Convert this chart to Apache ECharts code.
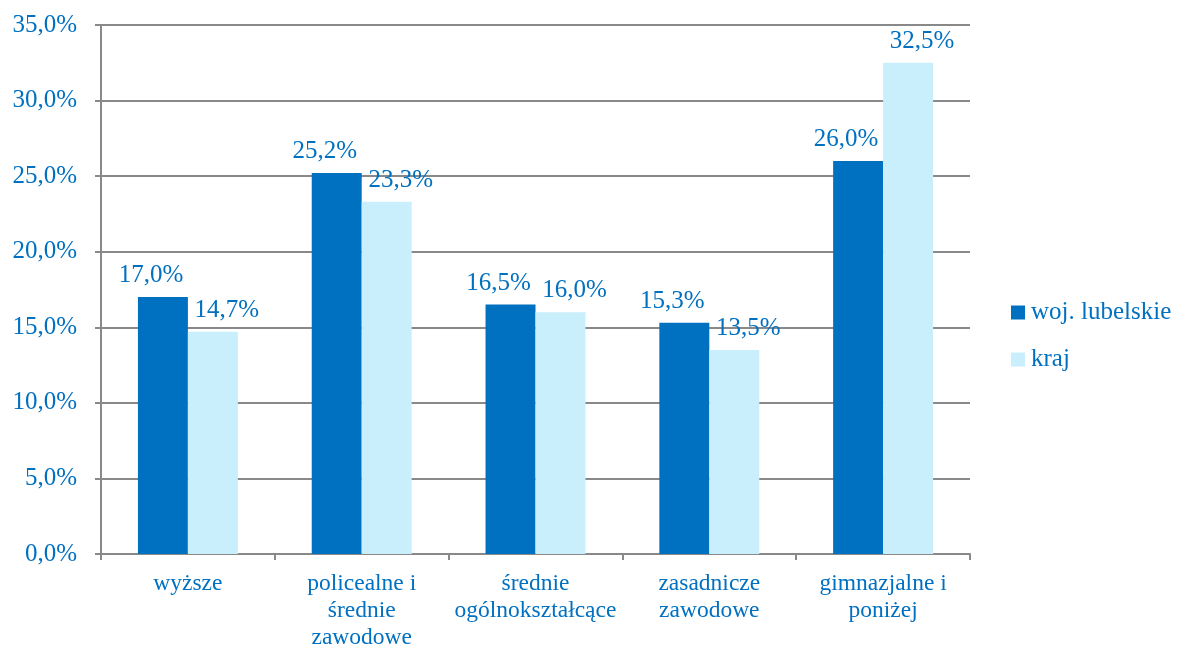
<!DOCTYPE html>
<html><head><meta charset="utf-8">
<script src="https://cdn.jsdelivr.net/npm/echarts@6/dist/echarts.min.js"></script>
<style>html,body{margin:0;padding:0;background:#fff;overflow:hidden}#c{width:1183px;height:645px}</style>
</head><body><div id="c"></div>
<script>
var categories = ['wyższe', 'policealne i\nśrednie\nzawodowe', 'średnie\nogólnokształcące', 'zasadnicze\nzawodowe', 'gimnazjalne i\nponiżej'];
var seriesNames = ['woj. lubelskie', 'kraj'];
var lubelskie = [17.0, 25.2, 16.5, 15.3, 26.0];
var kraj = [14.7, 23.3, 16.0, 13.5, 32.5];
var yTicks = {min: 0, max: 35, interval: 5};

function fmt(v) { return v.toFixed(1).replace('.', ',') + '%'; }
var FONT = '"Liberation Serif", "Times New Roman", serif';
var BLUE = '#0070C0';
var chart = echarts.init(document.getElementById('c'));
chart.setOption({
  animation: false,
  textStyle: {fontFamily: FONT},
  grid: {left: 101, width: 869, top: 25, height: 529, containLabel: false, outerBoundsMode: 'none'},
  legend: {
    orient: 'vertical', left: 1006, top: 295, itemWidth: 14, itemHeight: 14, itemGap: 22,
    icon: 'rect',
    textStyle: {color: BLUE, fontSize: 25, fontFamily: FONT, padding: [0,0,0,1]},
    data: seriesNames
  },
  xAxis: {
    type: 'category', data: categories,
    axisLine: {lineStyle: {color: '#898989', width: 2}},
    axisTick: {show: true, length: 6, lineStyle: {color: '#898989', width: 2}},
    axisLabel: {color: BLUE, fontSize: 23.5, lineHeight: 27, margin: 16, fontFamily: FONT, interval: 0}
  },
  yAxis: {
    type: 'value', min: yTicks.min, max: yTicks.max, interval: yTicks.interval,
    axisLine: {show: true, lineStyle: {color: '#898989', width: 2}},
    axisTick: {show: true, length: 6, lineStyle: {color: '#898989', width: 2}},
    splitLine: {lineStyle: {color: '#898989', width: 2}},
    axisLabel: {color: BLUE, fontSize: 25, margin: 24, fontFamily: FONT, formatter: function(v){return fmt(v);}}
  },
  series: [
    {name: seriesNames[0], type: 'bar', data: lubelskie, barGap: '0%', barCategoryGap: '42.5%',
     itemStyle: {color: '#0070C0'},
     label: {show: true, position: 'top', distance: 9, offset: [-12, 0], color: BLUE, fontSize: 25, fontFamily: FONT, formatter: function(p){return fmt(p.value);}}},
    {name: seriesNames[1], type: 'bar', data: kraj, barGap: '0%', barCategoryGap: '42.5%',
     itemStyle: {color: '#C9EEFC'},
     label: {show: true, position: 'top', distance: 9, offset: [14, 0], color: BLUE, fontSize: 25, fontFamily: FONT, formatter: function(p){return fmt(p.value);}}}
  ]
});
</script></body></html>
